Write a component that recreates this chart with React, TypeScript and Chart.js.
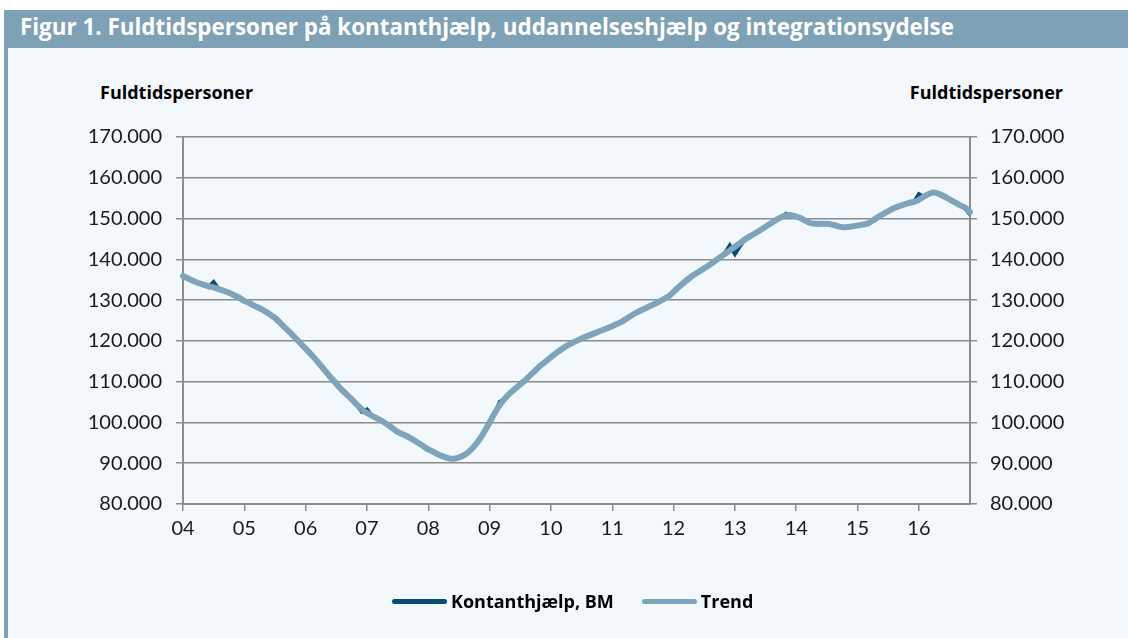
import React, { useEffect, useRef } from "react";
import { Chart, registerables } from "chart.js";

Chart.register(...registerables);

// ---------- DATA ----------
const yearLabels = ["04", "05", "06", "07", "08", "09", "10", "11", "12", "13", "14", "15", "16"];
const monthCount = 155; // Jan 2004 - Nov 2016

const categories: string[] = [];
yearLabels.forEach((y) => {
  for (let m = 1; m <= 12; m++) categories.push(`20${y}-${m < 10 ? "0" + m : m}`);
});
categories.length = monthCount;

const kontanthjaelpBM = [
  136100, 135200, 134800, 134100, 133900, 133200, 134400, 132600, 132400, 131700, 131300, 130500,
  129900, 129200, 128700, 127900, 127400, 126400, 125900, 124700, 123100, 122100, 120600, 119500,
  118000, 116900, 115300, 114000, 112300, 110800, 109800, 107900, 106800, 105800, 104300, 102600,
  103200, 101500, 101100, 100200, 99600, 98500, 97800, 97000, 96600, 95700, 95100, 94100,
  93500, 92700, 92200, 91500, 91300, 91000, 91500, 91900, 93000, 94100, 95900, 97700,
  100200, 102100, 105100, 105700, 107400, 108100, 109600, 110200, 111800, 112600, 114200, 114900,
  116100, 116900, 118000, 118600, 119500, 119900, 120700, 121000, 121700, 122000, 122700, 123000,
  123700, 124100, 124900, 125500, 126500, 127000, 127800, 128200, 129000, 129400, 130300, 130800,
  132100, 133100, 134400, 135200, 136300, 136900, 137900, 138500, 139600, 140300, 141400, 143400,
  141300, 143300, 145000, 145600, 146500, 147100, 148100, 148700, 149700, 150200, 151200, 150900,
  150400, 150100, 149200, 148900, 148600, 148800, 148600, 148400, 148300, 147800, 148000, 148000,
  148400, 148400, 148900, 149400, 150500, 151000, 151900, 152400, 153100, 153300, 153900, 154000,
  156000, 155300, 156200, 156300, 156100, 155300, 154800, 153900, 153400, 152600, 151000,
];

const trend = [
  135900, 135300, 134700, 134200, 133800, 133400, 133100, 132700, 132300, 131800, 131200, 130600,
  129800, 129300, 128600, 128000, 127300, 126500, 125600, 124400, 123200, 122000, 120700, 119400,
  118100, 116800, 115400, 113900, 112400, 110900, 109500, 108100, 106900, 105700, 104400, 103200,
  102300, 101600, 101000, 100300, 99500, 98600, 97700, 97100, 96500, 95800, 95000, 94200,
  93400, 92800, 92100, 91600, 91200, 91100, 91400, 92000, 92900, 94200, 95800, 97800,
  100000, 102300, 104300, 105900, 107200, 108300, 109300, 110400, 111600, 112800, 114000, 115000,
  116000, 117000, 117900, 118700, 119400, 120000, 120600, 121100, 121600, 122100, 122600, 123100,
  123600, 124200, 124800, 125600, 126400, 127100, 127700, 128300, 128900, 129500, 130200, 130900,
  132000, 133200, 134300, 135300, 136200, 137000, 137800, 138600, 139500, 140400, 141300, 142200,
  143100, 144000, 144900, 145700, 146400, 147200, 148000, 148800, 149600, 150300, 150800, 150800,
  150500, 150000, 149300, 148800, 148700, 148700, 148700, 148500, 148200, 147900, 147900, 148100,
  148300, 148500, 148800, 149500, 150400, 151100, 151800, 152500, 153000, 153400, 153800, 154100,
  154600, 155400, 156100, 156400, 156000, 155400, 154700, 154000, 153300, 152700, 151600,
];

const yMin = 80000;
const yMax = 170000;
const yStep = 10000;

const seriesNames = ["Kontanthjælp, BM", "Trend"];
const titleText = "Figur 1. Fuldtidspersoner på kontanthjælp, uddannelseshjælp og integrationsydelse";
const axisTitle = "Fuldtidspersoner";

// ---------- STYLE ----------
const C_BAR = "#7fa1b6";
const C_BG = "#f3f8fd";
const C_GRID = "#8c8c8c";
const C_BM = "#0b4a72";
const C_TREND = "#7fa3ba";
const C_TEXT = "#1a1a1a";
const TICK_FONT = { family: "Lato", size: 20 };

const fmt = (v: number) => `${Math.round(v / 1000)}.000`;

export default function App() {
  const ref = useRef<HTMLCanvasElement | null>(null);

  useEffect(() => {
    if (!ref.current) return;
    const chart = new Chart(ref.current, {
      type: "line",
      data: {
        labels: categories,
        datasets: [
          {
            label: seriesNames[1],
            data: trend,
            borderColor: C_TREND,
            borderWidth: 6,
            pointRadius: 0,
            tension: 0.3,
            borderCapStyle: "round",
            borderJoinStyle: "round",
            order: 0,
          },
          {
            label: seriesNames[0],
            data: kontanthjaelpBM,
            borderColor: C_BM,
            borderWidth: 4,
            pointRadius: 0,
            tension: 0,
            borderJoinStyle: "miter",
            order: 1,
          },
        ],
      },
      options: {
        animation: false,
        responsive: false,
        devicePixelRatio: 1,
        layout: { padding: { top: 137, left: 0, right: 0, bottom: 0 } },
        plugins: { legend: { display: false }, tooltip: { enabled: false }, title: { display: false } },
        scales: {
          x: {
            type: "category",
            offset: false,
            grid: {
              display: true,
              drawOnChartArea: false,
              drawTicks: true,
              tickLength: 7,
              lineWidth: 1.5,
              color: (ctx: any) => (ctx.index % 12 === 0 ? C_GRID : "rgba(0,0,0,0)"),
            },
            border: { display: true, color: C_GRID, width: 2 },
            ticks: {
              autoSkip: false,
              maxRotation: 0,
              minRotation: 0,
              padding: 6,
              color: C_TEXT,
              font: TICK_FONT,
              callback: (_v: any, i: number) => (i % 12 === 0 ? yearLabels[i / 12] : ""),
            },
            afterFit: (s: any) => {
              s.height = 134;
            },
          },
          y: {
            position: "left",
            min: yMin,
            max: yMax,
            grid: { color: C_GRID, lineWidth: 1.5, tickLength: 7, drawTicks: true },
            border: { display: true, color: C_GRID, width: 2 },
            ticks: { stepSize: yStep, padding: 14, color: C_TEXT, font: TICK_FONT, callback: (v: any) => fmt(Number(v)) },
            afterFit: (s: any) => {
              s.width = 183;
            },
          },
          y2: {
            position: "right",
            min: yMin,
            max: yMax,
            grid: { drawOnChartArea: false, color: C_GRID, lineWidth: 1.5, tickLength: 7, drawTicks: true },
            border: { display: true, color: C_GRID, width: 2 },
            ticks: { stepSize: yStep, padding: 13, color: C_TEXT, font: TICK_FONT, callback: (v: any) => fmt(Number(v)) },
            afterFit: (s: any) => {
              s.width = 158;
            },
          },
        },
      },
    });
    return () => chart.destroy();
  }, []);

  const legendItem = (color: string, text: string) => (
    <div style={{ display: "flex", alignItems: "center" }}>
      <div style={{ width: 55, height: 5, borderRadius: 3, background: color, marginRight: 4 }} />
      <span>{text}</span>
    </div>
  );

  return (
    <div style={{ position: "absolute", left: 0, top: 0, width: 1128, height: 638, background: "#fff", overflow: "hidden" }}>
      <div style={{ position: "absolute", left: 4, top: 10, width: 1124, height: 38, background: C_BAR }} />
      <div style={{ position: "absolute", left: 4, top: 48, width: 4, height: 590, background: C_BAR }} />
      <div style={{ position: "absolute", left: 8, top: 48, width: 1120, height: 590, background: C_BG }} />
      <div
        style={{
          position: "absolute",
          left: 20,
          top: 12,
          color: "#fff",
          fontFamily: "'Open Sans'",
          fontWeight: 700,
          fontSize: 22.4,
          lineHeight: "30px",
          whiteSpace: "nowrap",
        }}
      >
        {titleText}
      </div>
      <div style={{ position: "absolute", left: 100, top: 80, fontFamily: "'Open Sans'", fontWeight: 700, fontSize: 18, color: "#000", whiteSpace: "nowrap" }}>
        {axisTitle}
      </div>
      <div style={{ position: "absolute", right: 65, top: 80, fontFamily: "'Open Sans'", fontWeight: 700, fontSize: 18, color: "#000", whiteSpace: "nowrap" }}>
        {axisTitle}
      </div>
      <canvas ref={ref} width={1128} height={638} style={{ position: "absolute", left: 0, top: 0, width: 1128, height: 638 }} />
      <div
        style={{
          position: "absolute",
          left: 392,
          top: 589,
          display: "flex",
          gap: 28,
          fontFamily: "'Open Sans'",
          fontWeight: 700,
          fontSize: 18,
          color: "#000",
          whiteSpace: "nowrap",
        }}
      >
        {legendItem(C_BM, seriesNames[0])}
        {legendItem(C_TREND, seriesNames[1])}
      </div>
    </div>
  );
}
